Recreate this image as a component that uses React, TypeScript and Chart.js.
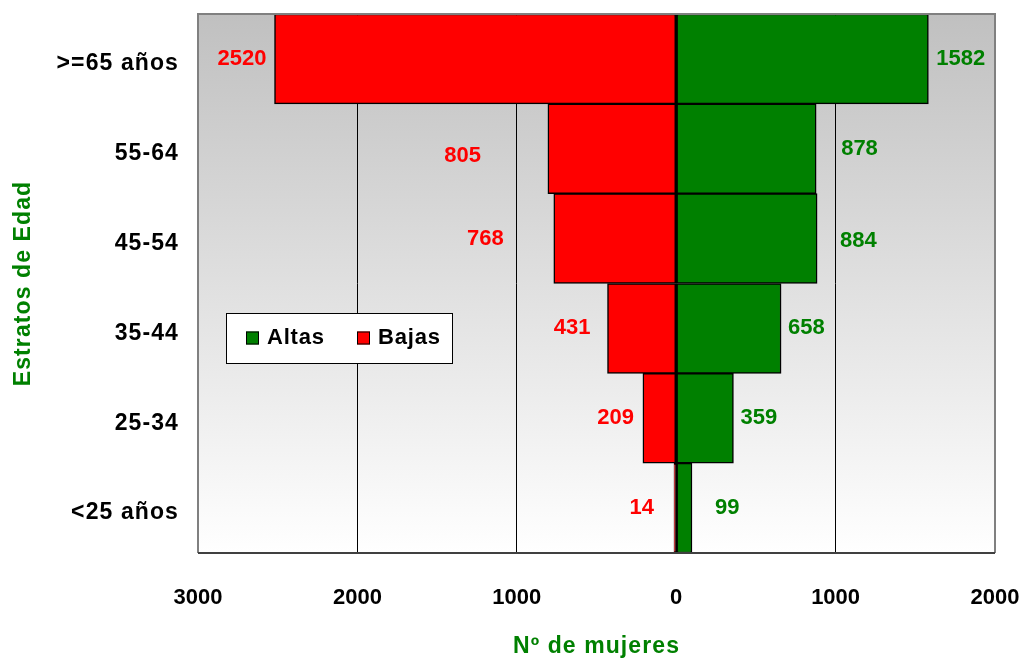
import React, { useEffect, useRef } from "react";
import { Chart, registerables } from "chart.js";

Chart.register(...registerables);

// ---- data ----
const categories = [">=65 años", "55-64", "45-54", "35-44", "25-34", "<25 años"];
const altas = [1582, 878, 884, 658, 359, 99];
const bajas = [2520, 805, 768, 431, 209, 14];
const xMin = -3000;
const xMax = 2000;
const xStep = 1000;

// ---- styling (label placement tweaks, px) ----
const bajasLabelGap = [8, 67, 50, 17, 9, 20];
const altasLabelGap = [8, 25, 23, 7, 7, 23];
const bajasLabelDy = [0, 7, 0, 0, 0, 0];
const altasLabelDy = [0, 0, 2, 0, 0, 0];

const RED = "#FF0000";
const GREEN = "#008000";
const FONT = "'Liberation Sans', Arial, sans-serif";
const SPACING = "1.1px";

const decorPlugin = {
  id: "decor",
  afterLayout(chart: any) {
    const xs = chart.scales.x;
    if (xs && !xs.__wrapped) {
      const orig = xs.drawLabels.bind(xs);
      xs.drawLabels = (area: any) => {
        const c = chart.ctx as any;
        const prev = c.letterSpacing;
        c.letterSpacing = "0px";
        orig(area);
        c.letterSpacing = prev;
      };
      xs.__wrapped = true;
    }
  },
  beforeDraw(chart: any) {
    const { ctx, chartArea: a } = chart;
    ctx.save();
    ctx.fillStyle = "#ffffff";
    ctx.fillRect(0, 0, chart.width, chart.height);
    const g = ctx.createLinearGradient(0, a.top, 0, a.bottom);
    g.addColorStop(0, "#c0c0c0");
    g.addColorStop(1, "#ffffff");
    ctx.fillStyle = g;
    ctx.fillRect(a.left, a.top, a.right - a.left, a.bottom - a.top);
    ctx.restore();
    (ctx as any).letterSpacing = SPACING;
  },
  beforeDatasetsDraw(chart: any) {
    (chart.ctx as any).letterSpacing = "0px";
  },
  afterDatasetsDraw(chart: any) {
    const { ctx, chartArea: a } = chart;
    ctx.save();
    // plot border
    ctx.strokeStyle = "#808080";
    ctx.lineWidth = 2;
    ctx.beginPath();
    ctx.moveTo(a.left, a.bottom);
    ctx.lineTo(a.left, a.top);
    ctx.lineTo(a.right, a.top);
    ctx.lineTo(a.right, a.bottom);
    ctx.stroke();
    ctx.strokeStyle = "#404040";
    ctx.beginPath();
    ctx.moveTo(a.left, a.bottom);
    ctx.lineTo(a.right, a.bottom);
    ctx.stroke();

    // value labels
    ctx.font = `bold 22px ${FONT}`;
    ctx.textBaseline = "middle";
    (ctx as any).letterSpacing = "0px";
    const mB = chart.getDatasetMeta(0);
    mB.data.forEach((el: any, i: number) => {
      ctx.fillStyle = RED;
      ctx.textAlign = "right";
      ctx.fillText(String(bajas[i]), el.x - bajasLabelGap[i], el.y + bajasLabelDy[i]);
    });
    const mA = chart.getDatasetMeta(1);
    mA.data.forEach((el: any, i: number) => {
      ctx.fillStyle = GREEN;
      ctx.textAlign = "left";
      ctx.fillText(String(altas[i]), el.x + altasLabelGap[i], el.y + altasLabelDy[i]);
    });

    // legend box
    const lx = a.left + 28;
    const ly = a.top + 299;
    const lw = 226;
    const lh = 50;
    ctx.fillStyle = "#ffffff";
    ctx.fillRect(lx, ly, lw, lh);
    ctx.strokeStyle = "#000000";
    ctx.lineWidth = 1;
    ctx.strokeRect(lx + 0.5, ly + 0.5, lw, lh);
    const items = [
      { text: "Altas", color: GREEN, x: lx + 20 },
      { text: "Bajas", color: RED, x: lx + 131 },
    ];
    const cy = ly + lh / 2;
    (ctx as any).letterSpacing = "0.8px";
    items.forEach((it) => {
      ctx.fillStyle = it.color;
      ctx.fillRect(it.x, cy - 6.5, 13, 13);
      ctx.strokeStyle = "#000";
      ctx.strokeRect(it.x + 0.5, cy - 6.5 + 0.5, 12, 12);
      ctx.fillStyle = "#000";
      ctx.textAlign = "left";
      ctx.font = `bold 22px ${FONT}`;
      ctx.fillText(it.text, it.x + 21, cy);
    });
    (ctx as any).letterSpacing = "0px";
    ctx.restore();
  },
};

export default function App() {
  const ref = useRef<HTMLCanvasElement | null>(null);
  useEffect(() => {
    if (!ref.current) return;
    const chart = new Chart(ref.current, {
      type: "bar",
      data: {
        labels: categories,
        datasets: [
          {
            label: "Bajas",
            data: bajas.map((v) => -v),
            backgroundColor: RED,
            borderColor: "#000",
            borderWidth: 1.5,
            borderSkipped: false,
            barPercentage: 1,
            categoryPercentage: 1,
          },
          {
            label: "Altas",
            data: altas,
            backgroundColor: GREEN,
            borderColor: "#000",
            borderWidth: 1.5,
            borderSkipped: false,
            barPercentage: 1,
            categoryPercentage: 1,
          },
        ],
      },
      options: {
        indexAxis: "y",
        responsive: false,
        animation: false,
        layout: { padding: { top: 14, right: 30, left: 0, bottom: 0 } },
        plugins: { legend: { display: false }, tooltip: { enabled: false } },
        scales: {
          x: {
            stacked: true,
            min: xMin,
            max: xMax,
            ticks: {
              stepSize: xStep,
              callback: (v: any) => String(Math.abs(Number(v))),
              font: { family: FONT, size: 22, weight: "bold" },
              color: "#000",
              padding: 32,
              maxRotation: 0,
            },
            grid: {
              color: (c: any) =>
                c.tick && (c.tick.value === xMin || c.tick.value === xMax) ? "rgba(0,0,0,0)" : "#000",
              drawTicks: false,
              lineWidth: 1,
            },
            border: { display: false },
            title: {
              display: true,
              text: "Nº de mujeres",
              color: GREEN,
              font: { family: FONT, size: 23, weight: "bold" },
              padding: { top: 0, bottom: 2 },
            },
            afterFit: (s: any) => {
              s.height = 109;
              s.paddingLeft = 0;
              s.paddingRight = 0;
              s.paddingTop = 0;
              s.paddingBottom = 0;
            },
          },
          y: {
            stacked: true,
            grid: { display: false, drawTicks: false },
            border: { display: false },
            ticks: {
              font: { family: FONT, size: 23, weight: "bold" },
              color: "#000",
              padding: 19,
              labelOffset: 5,
            },
            title: {
              display: true,
              text: "Estratos de Edad",
              color: GREEN,
              font: { family: FONT, size: 23, weight: "bold" },
              padding: { top: 10, bottom: 0 },
            },
            afterFit: (s: any) => {
              s.width = 198;
              s.paddingLeft = 0;
              s.paddingRight = 0;
              s.paddingTop = 0;
              s.paddingBottom = 0;
            },
          },
        },
      } as any,
      plugins: [decorPlugin],
    });
    return () => chart.destroy();
  }, []);
  return (
    <div style={{ position: "fixed", left: 0, top: 0, width: 1025, height: 662 }}>
      <canvas ref={ref} width={1025} height={662} style={{ display: "block" }} />
    </div>
  );
}
